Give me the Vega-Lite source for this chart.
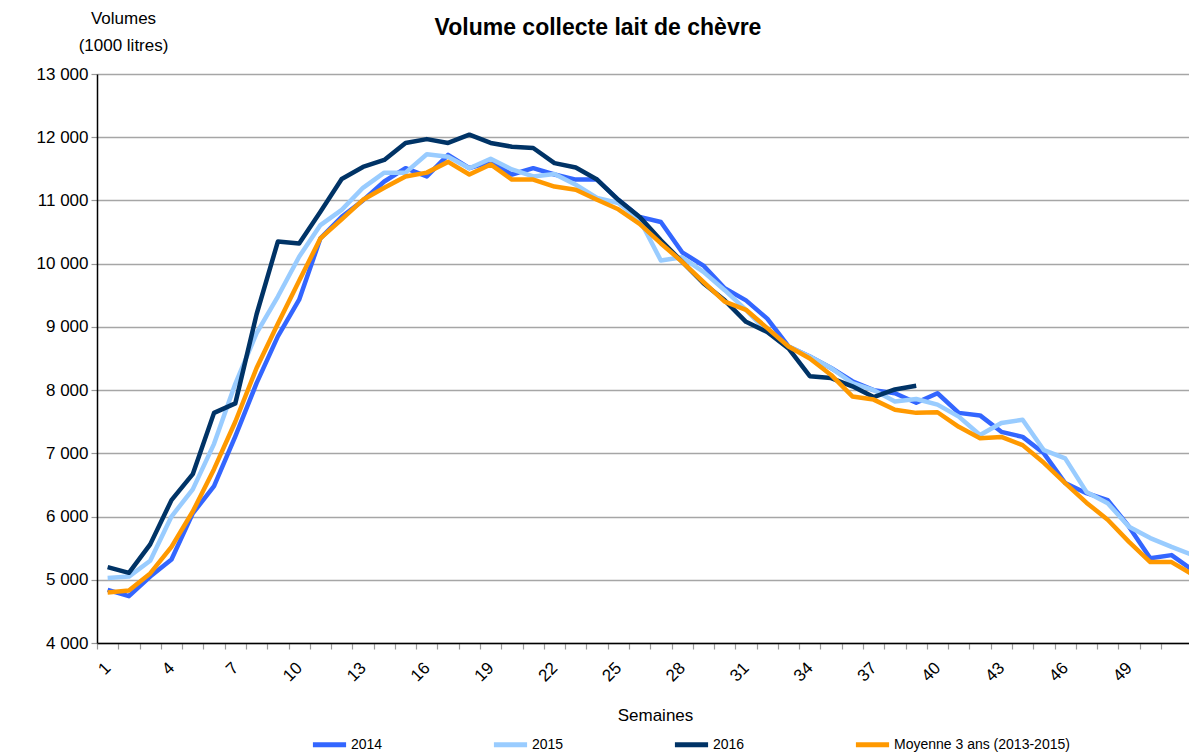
{
"$schema": "https://vega.github.io/schema/vega-lite/v6.json",
"width": 1092, "height": 569,
"autosize": {"type": "none"},
"padding": {"left": 97, "top": 74, "right": 0, "bottom": 109},
"background": "white",
"config": {"view": {"stroke": null}, "font": "Liberation Sans"},
"title": {"text": "Volume collecte lait de chèvre", "fontSize": 23, "fontWeight": "bold", "font": "Liberation Sans", "color": "#000000", "anchor": "middle", "dx": -45, "dy": 35},
"data": {"values": [
{"serie":"2014","semaine":1,"volume":4840},{"serie":"2014","semaine":2,"volume":4740},{"serie":"2014","semaine":3,"volume":5050},{"serie":"2014","semaine":4,"volume":5320},{"serie":"2014","semaine":5,"volume":6050},{"serie":"2014","semaine":6,"volume":6480},{"serie":"2014","semaine":7,"volume":7270},{"serie":"2014","semaine":8,"volume":8110},{"serie":"2014","semaine":9,"volume":8850},{"serie":"2014","semaine":10,"volume":9430},{"serie":"2014","semaine":11,"volume":10400},{"serie":"2014","semaine":12,"volume":10740},{"serie":"2014","semaine":13,"volume":11000},{"serie":"2014","semaine":14,"volume":11300},{"serie":"2014","semaine":15,"volume":11510},{"serie":"2014","semaine":16,"volume":11380},{"serie":"2014","semaine":17,"volume":11720},{"serie":"2014","semaine":18,"volume":11510},{"serie":"2014","semaine":19,"volume":11610},{"serie":"2014","semaine":20,"volume":11410},{"serie":"2014","semaine":21,"volume":11510},{"serie":"2014","semaine":22,"volume":11410},{"serie":"2014","semaine":23,"volume":11330},{"serie":"2014","semaine":24,"volume":11330},{"serie":"2014","semaine":25,"volume":11010},{"serie":"2014","semaine":26,"volume":10740},{"serie":"2014","semaine":27,"volume":10660},{"serie":"2014","semaine":28,"volume":10180},{"serie":"2014","semaine":29,"volume":9970},{"serie":"2014","semaine":30,"volume":9610},{"serie":"2014","semaine":31,"volume":9420},{"serie":"2014","semaine":32,"volume":9130},{"serie":"2014","semaine":33,"volume":8690},{"serie":"2014","semaine":34,"volume":8530},{"serie":"2014","semaine":35,"volume":8350},{"serie":"2014","semaine":36,"volume":8140},{"serie":"2014","semaine":37,"volume":8000},{"serie":"2014","semaine":38,"volume":7950},{"serie":"2014","semaine":39,"volume":7800},{"serie":"2014","semaine":40,"volume":7950},{"serie":"2014","semaine":41,"volume":7640},{"serie":"2014","semaine":42,"volume":7600},{"serie":"2014","semaine":43,"volume":7340},{"serie":"2014","semaine":44,"volume":7260},{"serie":"2014","semaine":45,"volume":7000},{"serie":"2014","semaine":46,"volume":6530},{"serie":"2014","semaine":47,"volume":6370},{"serie":"2014","semaine":48,"volume":6260},{"serie":"2014","semaine":49,"volume":5840},{"serie":"2014","semaine":50,"volume":5340},{"serie":"2014","semaine":51,"volume":5390},{"serie":"2014","semaine":52,"volume":5150},
{"serie":"2015","semaine":1,"volume":5030},{"serie":"2015","semaine":2,"volume":5050},{"serie":"2015","semaine":3,"volume":5300},{"serie":"2015","semaine":4,"volume":6000},{"serie":"2015","semaine":5,"volume":6430},{"serie":"2015","semaine":6,"volume":7150},{"serie":"2015","semaine":7,"volume":8100},{"serie":"2015","semaine":8,"volume":8900},{"serie":"2015","semaine":9,"volume":9480},{"serie":"2015","semaine":10,"volume":10110},{"serie":"2015","semaine":11,"volume":10610},{"serie":"2015","semaine":12,"volume":10850},{"serie":"2015","semaine":13,"volume":11200},{"serie":"2015","semaine":14,"volume":11440},{"serie":"2015","semaine":15,"volume":11440},{"serie":"2015","semaine":16,"volume":11730},{"serie":"2015","semaine":17,"volume":11690},{"serie":"2015","semaine":18,"volume":11510},{"serie":"2015","semaine":19,"volume":11660},{"serie":"2015","semaine":20,"volume":11490},{"serie":"2015","semaine":21,"volume":11380},{"serie":"2015","semaine":22,"volume":11420},{"serie":"2015","semaine":23,"volume":11250},{"serie":"2015","semaine":24,"volume":11040},{"serie":"2015","semaine":25,"volume":10960},{"serie":"2015","semaine":26,"volume":10700},{"serie":"2015","semaine":27,"volume":10050},{"serie":"2015","semaine":28,"volume":10100},{"serie":"2015","semaine":29,"volume":9870},{"serie":"2015","semaine":30,"volume":9580},{"serie":"2015","semaine":31,"volume":9270},{"serie":"2015","semaine":32,"volume":8920},{"serie":"2015","semaine":33,"volume":8690},{"serie":"2015","semaine":34,"volume":8530},{"serie":"2015","semaine":35,"volume":8350},{"serie":"2015","semaine":36,"volume":8110},{"serie":"2015","semaine":37,"volume":8000},{"serie":"2015","semaine":38,"volume":7820},{"serie":"2015","semaine":39,"volume":7860},{"serie":"2015","semaine":40,"volume":7770},{"serie":"2015","semaine":41,"volume":7580},{"serie":"2015","semaine":42,"volume":7290},{"serie":"2015","semaine":43,"volume":7480},{"serie":"2015","semaine":44,"volume":7530},{"serie":"2015","semaine":45,"volume":7050},{"serie":"2015","semaine":46,"volume":6920},{"serie":"2015","semaine":47,"volume":6390},{"serie":"2015","semaine":48,"volume":6210},{"serie":"2015","semaine":49,"volume":5840},{"serie":"2015","semaine":50,"volume":5660},{"serie":"2015","semaine":51,"volume":5520},{"serie":"2015","semaine":52,"volume":5390},
{"serie":"2016","semaine":1,"volume":5200},{"serie":"2016","semaine":2,"volume":5110},{"serie":"2016","semaine":3,"volume":5560},{"serie":"2016","semaine":4,"volume":6260},{"serie":"2016","semaine":5,"volume":6670},{"serie":"2016","semaine":6,"volume":7640},{"serie":"2016","semaine":7,"volume":7790},{"serie":"2016","semaine":8,"volume":9200},{"serie":"2016","semaine":9,"volume":10350},{"serie":"2016","semaine":10,"volume":10320},{"serie":"2016","semaine":11,"volume":10820},{"serie":"2016","semaine":12,"volume":11340},{"serie":"2016","semaine":13,"volume":11530},{"serie":"2016","semaine":14,"volume":11640},{"serie":"2016","semaine":15,"volume":11910},{"serie":"2016","semaine":16,"volume":11970},{"serie":"2016","semaine":17,"volume":11910},{"serie":"2016","semaine":18,"volume":12040},{"serie":"2016","semaine":19,"volume":11910},{"serie":"2016","semaine":20,"volume":11850},{"serie":"2016","semaine":21,"volume":11830},{"serie":"2016","semaine":22,"volume":11590},{"serie":"2016","semaine":23,"volume":11520},{"serie":"2016","semaine":24,"volume":11330},{"serie":"2016","semaine":25,"volume":11010},{"serie":"2016","semaine":26,"volume":10740},{"serie":"2016","semaine":27,"volume":10370},{"serie":"2016","semaine":28,"volume":10030},{"serie":"2016","semaine":29,"volume":9690},{"serie":"2016","semaine":30,"volume":9420},{"serie":"2016","semaine":31,"volume":9080},{"serie":"2016","semaine":32,"volume":8920},{"serie":"2016","semaine":33,"volume":8660},{"serie":"2016","semaine":34,"volume":8220},{"serie":"2016","semaine":35,"volume":8190},{"serie":"2016","semaine":36,"volume":8060},{"serie":"2016","semaine":37,"volume":7890},{"serie":"2016","semaine":38,"volume":8010},{"serie":"2016","semaine":39,"volume":8070},
{"serie":"Moyenne 3 ans (2013-2015)","semaine":1,"volume":4800},{"serie":"Moyenne 3 ans (2013-2015)","semaine":2,"volume":4830},{"serie":"Moyenne 3 ans (2013-2015)","semaine":3,"volume":5100},{"serie":"Moyenne 3 ans (2013-2015)","semaine":4,"volume":5520},{"serie":"Moyenne 3 ans (2013-2015)","semaine":5,"volume":6080},{"serie":"Moyenne 3 ans (2013-2015)","semaine":6,"volume":6750},{"serie":"Moyenne 3 ans (2013-2015)","semaine":7,"volume":7500},{"serie":"Moyenne 3 ans (2013-2015)","semaine":8,"volume":8350},{"serie":"Moyenne 3 ans (2013-2015)","semaine":9,"volume":9050},{"serie":"Moyenne 3 ans (2013-2015)","semaine":10,"volume":9730},{"serie":"Moyenne 3 ans (2013-2015)","semaine":11,"volume":10400},{"serie":"Moyenne 3 ans (2013-2015)","semaine":12,"volume":10700},{"serie":"Moyenne 3 ans (2013-2015)","semaine":13,"volume":11010},{"serie":"Moyenne 3 ans (2013-2015)","semaine":14,"volume":11200},{"serie":"Moyenne 3 ans (2013-2015)","semaine":15,"volume":11380},{"serie":"Moyenne 3 ans (2013-2015)","semaine":16,"volume":11440},{"serie":"Moyenne 3 ans (2013-2015)","semaine":17,"volume":11610},{"serie":"Moyenne 3 ans (2013-2015)","semaine":18,"volume":11410},{"serie":"Moyenne 3 ans (2013-2015)","semaine":19,"volume":11570},{"serie":"Moyenne 3 ans (2013-2015)","semaine":20,"volume":11330},{"serie":"Moyenne 3 ans (2013-2015)","semaine":21,"volume":11330},{"serie":"Moyenne 3 ans (2013-2015)","semaine":22,"volume":11220},{"serie":"Moyenne 3 ans (2013-2015)","semaine":23,"volume":11170},{"serie":"Moyenne 3 ans (2013-2015)","semaine":24,"volume":11010},{"serie":"Moyenne 3 ans (2013-2015)","semaine":25,"volume":10860},{"serie":"Moyenne 3 ans (2013-2015)","semaine":26,"volume":10630},{"serie":"Moyenne 3 ans (2013-2015)","semaine":27,"volume":10320},{"serie":"Moyenne 3 ans (2013-2015)","semaine":28,"volume":10030},{"serie":"Moyenne 3 ans (2013-2015)","semaine":29,"volume":9710},{"serie":"Moyenne 3 ans (2013-2015)","semaine":30,"volume":9400},{"serie":"Moyenne 3 ans (2013-2015)","semaine":31,"volume":9270},{"serie":"Moyenne 3 ans (2013-2015)","semaine":32,"volume":8980},{"serie":"Moyenne 3 ans (2013-2015)","semaine":33,"volume":8690},{"serie":"Moyenne 3 ans (2013-2015)","semaine":34,"volume":8500},{"serie":"Moyenne 3 ans (2013-2015)","semaine":35,"volume":8240},{"serie":"Moyenne 3 ans (2013-2015)","semaine":36,"volume":7900},{"serie":"Moyenne 3 ans (2013-2015)","semaine":37,"volume":7850},{"serie":"Moyenne 3 ans (2013-2015)","semaine":38,"volume":7690},{"serie":"Moyenne 3 ans (2013-2015)","semaine":39,"volume":7640},{"serie":"Moyenne 3 ans (2013-2015)","semaine":40,"volume":7650},{"serie":"Moyenne 3 ans (2013-2015)","semaine":41,"volume":7420},{"serie":"Moyenne 3 ans (2013-2015)","semaine":42,"volume":7240},{"serie":"Moyenne 3 ans (2013-2015)","semaine":43,"volume":7260},{"serie":"Moyenne 3 ans (2013-2015)","semaine":44,"volume":7130},{"serie":"Moyenne 3 ans (2013-2015)","semaine":45,"volume":6850},{"serie":"Moyenne 3 ans (2013-2015)","semaine":46,"volume":6530},{"serie":"Moyenne 3 ans (2013-2015)","semaine":47,"volume":6220},{"serie":"Moyenne 3 ans (2013-2015)","semaine":48,"volume":5950},{"serie":"Moyenne 3 ans (2013-2015)","semaine":49,"volume":5600},{"serie":"Moyenne 3 ans (2013-2015)","semaine":50,"volume":5280},{"serie":"Moyenne 3 ans (2013-2015)","semaine":51,"volume":5280},{"serie":"Moyenne 3 ans (2013-2015)","semaine":52,"volume":5080}
]},
"mark": {"type": "line", "strokeWidth": 4.5, "clip": true, "strokeJoin": "round"},
"encoding": {
"x": {"field": "semaine", "type": "quantitative",
 "scale": {"domain": [0.5, 51.82], "nice": false, "zero": false},
 "axis": {"values": [1,2,3,4,5,6,7,8,9,10,11,12,13,14,15,16,17,18,19,20,21,22,23,24,25,26,27,28,29,30,31,32,33,34,35,36,37,38,39,40,41,42,43,44,45,46,47,48,49,50,51,52],
  "labelExpr": "(datum.value - 1) % 3 == 0 ? datum.value : ''",
  "tickOffset": -10.64, "labelOffset": 10.64,
  "grid": false, "domainColor": "#000000", "domainWidth": 1.5, "tickColor": "#999999", "tickSize": 6, "tickWidth": 1.2,
  "labelAngle": -45, "labelAlign": "right", "labelBaseline": "middle", "labelPadding": 16,
  "labelFontSize": 17, "labelColor": "#000000", "labelFont": "Liberation Sans", "labelOverlap": false, "labelFlush": false, "labelBound": false,
  "title": "Semaines", "titleFontSize": 17, "titleFontWeight": "normal", "titleFont": "Liberation Sans", "titleColor": "#000000",
  "titleX": 558, "titleY": 64, "titleBaseline": "top", "titleAlign": "center"}},
"y": {"field": "volume", "type": "quantitative",
 "scale": {"domain": [4000, 13000], "nice": false, "zero": false},
 "axis": {"values": [4000,5000,6000,7000,8000,9000,10000,11000,12000,13000],
  "labelExpr": "replace(format(datum.value, ',d'), ',', ' ')",
  "grid": true, "gridColor": "#A6A6A6", "gridWidth": 1.5,
  "domainColor": "#000000", "domainWidth": 1.5, "tickColor": "#999999", "tickSize": 6, "tickWidth": 1.2,
  "labelFontSize": 17, "labelColor": "#000000", "labelFont": "Liberation Sans", "labelPadding": 3,
  "title": ["Volumes", "(1000 litres)"], "titleAngle": 0, "titleFontSize": 17, "titleFontWeight": "normal", "titleFont": "Liberation Sans", "titleColor": "#000000",
  "titleX": 26, "titleY": -64, "titleAlign": "center", "titleBaseline": "top", "titleLineHeight": 27}},
"color": {"field": "serie", "type": "nominal",
 "scale": {"domain": ["2014", "2015", "2016", "Moyenne 3 ans (2013-2015)"], "range": ["#3366FF", "#99CCFF", "#003366", "#FF9900"]},
 "legend": {"orient": "none", "legendX": 213, "legendY": 651, "direction": "horizontal", "columns": 4, "title": null,
  "symbolType": "stroke", "symbolStrokeWidth": 5, "symbolSize": 1100,
  "labelFontSize": 14, "labelFont": "Liberation Sans", "labelColor": "#000000", "labelOffset": 2, "columnPadding": 100, "labelLimit": 300}}
}
}
